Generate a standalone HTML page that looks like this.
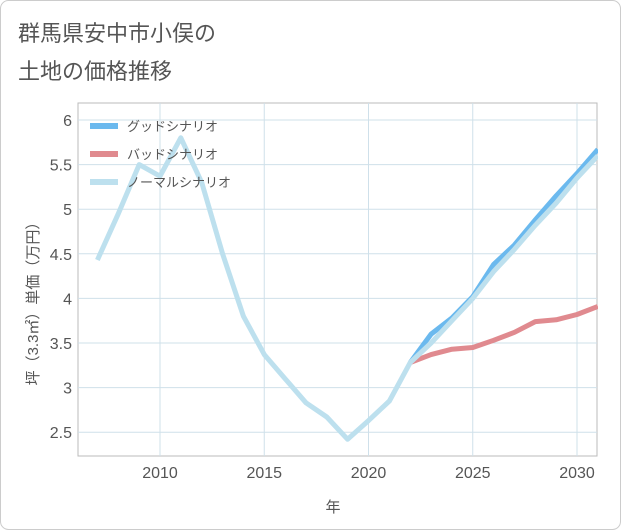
<!DOCTYPE html>
<html><head><meta charset="utf-8"><style>
body{margin:0;background:#fff;}
svg{display:block;font-family:"Liberation Sans","Noto Sans CJK JP",sans-serif;}
</style></head><body>
<svg width="621" height="530">
<rect x="0.5" y="0.5" width="620" height="529" rx="8" fill="#fff" stroke="#ccc"/>
<text x="18" y="41" font-size="22" fill="#555">群馬県安中市小俣の</text>
<text x="18" y="79" font-size="22" fill="#555">土地の価格推移</text>
<g id="grid"></g>
<g id="series"></g>
<g id="legend">
 <line x1="90" y1="126" x2="118" y2="126" stroke="#6bb9ee" stroke-width="6"/>
 <text x="127" y="131" font-size="13" fill="#555">グッドシナリオ</text>
 <line x1="90" y1="154" x2="118" y2="154" stroke="#e08a8f" stroke-width="6"/>
 <text x="127" y="159" font-size="13" fill="#555">バッドシナリオ</text>
 <line x1="90" y1="182" x2="118" y2="182" stroke="#bde0ee" stroke-width="6"/>
 <text x="127" y="187" font-size="13" fill="#555">ノーマルシナリオ</text>
</g>
<text x="333" y="512" font-size="15" fill="#555" text-anchor="middle">年</text>
<text transform="translate(38,300) rotate(-90)" font-size="15" fill="#555" text-anchor="middle">坪（3.3㎡）単価（万円）</text>
</svg>
<script>
const years=[2007,2008,2009,2010,2011,2012,2013,2014,2015,2016,2017,2018,2019,2020,2021,2022,2023,2024,2025,2026,2027,2028,2029,2030,2031];
const normal=[4.43,4.95,5.5,5.37,5.8,5.3,4.5,3.8,3.37,3.1,2.83,2.67,2.42,2.63,2.85,3.28,3.5,3.75,4.0,4.3,4.55,4.82,5.07,5.35,5.6];
const goodYears=[2022,2023,2024,2025,2026,2027,2028,2029,2030,2031];
const good=[3.28,3.6,3.78,4.02,4.38,4.6,4.88,5.15,5.4,5.67];
const bad=[3.28,3.37,3.43,3.45,3.53,3.62,3.74,3.76,3.82,3.91];
const yTicks=[2.5,3,3.5,4,4.5,5,5.5,6];
const xTicks=[2010,2015,2020,2025,2030];
const X0=78,X1=597,Y0=103,Y1=456;
const xs=y=>160+(y-2010)*20.85;
const ys=v=>120+(6-v)*89.2;
const NS='http://www.w3.org/2000/svg';
const grid=document.getElementById('grid'),ser=document.getElementById('series');
function mk(tag,attrs,parent){const e=document.createElementNS(NS,tag);for(const k in attrs)e.setAttribute(k,attrs[k]);parent.appendChild(e);return e;}
const bg=mk('rect',{x:X0,y:Y0,width:X1-X0,height:Y1-Y0,fill:'#fff',stroke:'#bbb'},grid);


yTicks.forEach(v=>{const l=mk('line',{x1:X0,x2:X1,y1:ys(v),y2:ys(v),stroke:'#cfe0ea'},grid);


const t=mk('text',{x:X0-6,y:ys(v)+6,'font-size':16,fill:'#555','text-anchor':'end'},grid);t.textContent=String(v);

});
xTicks.forEach(v=>{const l=mk('line',{x1:xs(v),x2:xs(v),y1:Y0,y2:Y1,stroke:'#cfe0ea'},grid);


const t=mk('text',{x:xs(v),y:Y1+22,'font-size':16,fill:'#555','text-anchor':'middle'},grid);t.textContent=String(v);

});
function line(xsArr,vals,color,name){const d=vals.map((v,i)=>(i?'L':'M')+xs(xsArr[i]).toFixed(1)+','+ys(v).toFixed(1)).join('');
const p=mk('path',{d:d,fill:'none',stroke:color,'stroke-width':5,'stroke-linejoin':'round'},ser);

}
line(goodYears,good,'#6bb9ee','good-scenario-line');
line(goodYears,bad,'#e08a8f','bad-scenario-line');
line(years,normal,'#bde0ee','normal-scenario-line');
const clip=mk('rect',{x:X1+1,y:Y0,width:22,height:Y1-Y0,fill:'#fff'},ser);


</script>
</body></html>
